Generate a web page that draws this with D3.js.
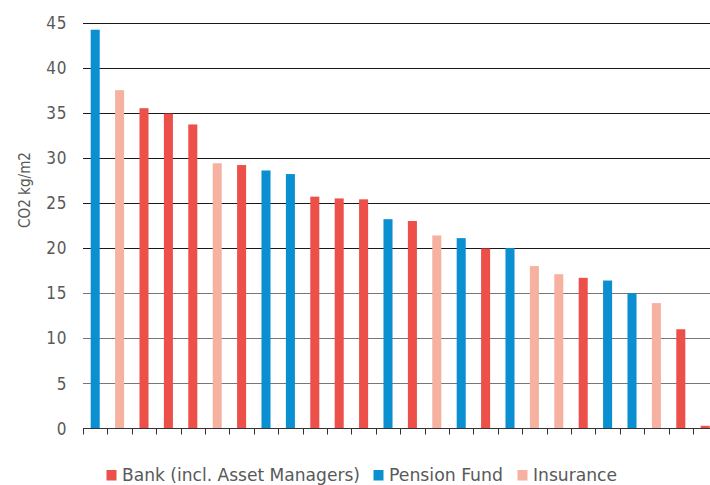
<!DOCTYPE html>
<html lang="en">
<head>
<meta charset="UTF-8">
<title>CO2 intensity by institution</title>
<script src="https://d3js.org/d3.v7.min.js"></script>
<style>
    html, body { margin: 0; padding: 0; background: #fff; }
    svg { display: block; }
    text { font-family: "Liberation Sans Narrow", "DejaVu Sans Condensed", "Liberation Sans", sans-serif; fill: #595959; }
</style>
</head>
<body>
<svg id="chart" width="710" height="485"></svg>
<script>
    // sector of each institution, in chart order (B = bank, P = pension fund, I = insurance)
    const sectors = ["P", "I", "B", "B", "B", "I", "B", "P", "P", "B", "B", "B", "P",
                     "B", "I", "P", "B", "P", "I", "I", "B", "P", "P", "I", "B", "B"];
    const values = [44.2, 37.5, 35.5, 34.9, 33.7, 29.4, 29.2, 28.6, 28.2, 25.7, 25.5, 25.4, 23.2,
                    23.0, 21.4, 21.1, 19.95, 20.0, 18.0, 17.1, 16.7, 16.4, 15.0, 13.9, 11.0, 0.3];
    const sectorKeys = ["B", "P", "I"];
    const sectorNames = ["Bank (incl. Asset Managers)", "Pension Fund", "Insurance"];
    const sectorColors = ["#ec5049", "#0a8fd0", "#f6b1a1"];
    const yTicks = [0, 5, 10, 15, 20, 25, 30, 35, 40, 45];
    const yTitle = "CO2 kg/m2";

    const svg = d3.select("#chart");
    const x0 = 83, step = 24.4, yBase = 428.5;

    const x = d3.scaleBand()
        .domain(d3.range(values.length))
        .range([x0, x0 + step * values.length])
        .paddingInner(0.63)
        .paddingOuter(0.315);

    const y = d3.scaleLinear().domain([0, 45]).range([yBase, 22.5]);

    const color = d3.scaleOrdinal().domain(sectorKeys).range(sectorColors);

    // gridlines
    svg.append("g")
        .selectAll("line")
        .data(yTicks.filter(d => d > 0))
        .enter().append("line")
        .attr("x1", x0).attr("x2", 710)
        .attr("y1", d => Math.round(y(d)) + 0.5)
        .attr("y2", d => Math.round(y(d)) + 0.5)
        .attr("stroke", d => d >= 20 ? "#1a1a1a" : "#777")
        .attr("stroke-width", 1.2);

    // y tick labels
    svg.append("g")
        .selectAll("text")
        .data(yTicks)
        .enter().append("text")
        .attr("x", 67)
        .attr("y", d => y(d))
        .attr("dy", "0.36em")
        .attr("text-anchor", "end")
        .attr("font-size", 17)
        .attr("letter-spacing", 0.6)
        .text(d => d);

    // y title
    svg.append("text")
        .attr("transform", "translate(30,190) rotate(-90)")
        .attr("text-anchor", "middle")
        .attr("font-size", 15.5)
        .attr("textLength", 76)
        .attr("lengthAdjust", "spacingAndGlyphs")
        .text(yTitle);

    // bars
    svg.append("g")
        .selectAll("rect")
        .data(values)
        .enter().append("rect")
        .attr("x", (d, i) => x(i))
        .attr("width", x.bandwidth())
        .attr("y", d => y(d))
        .attr("height", d => yBase - y(d))
        .attr("fill", (d, i) => color(sectors[i]));

    // x axis baseline and category ticks
    const axis = svg.append("g");
    axis.append("line")
        .attr("x1", x0).attr("x2", 710)
        .attr("y1", yBase).attr("y2", yBase)
        .attr("stroke", "#333").attr("stroke-width", 1.2);
    axis.selectAll("line.tick")
        .data(d3.range(values.length + 1))
        .enter().append("line")
        .attr("class", "tick")
        .attr("x1", i => Math.round(x0 + i * x.step()) + 0.5)
        .attr("x2", i => Math.round(x0 + i * x.step()) + 0.5)
        .attr("y1", yBase).attr("y2", yBase + 6)
        .attr("stroke", "#333");

    // legend
    const legendX = [106.5, 373.5, 517.5];
    const legendW = [238, 114, 84];
    const legend = svg.append("g")
        .selectAll("g")
        .data(sectorKeys)
        .enter().append("g")
        .attr("transform", (d, i) => `translate(${legendX[i]},470)`);
    legend.append("rect")
        .attr("width", 10).attr("height", 10.5)
        .attr("fill", d => color(d));
    legend.append("text")
        .attr("x", 15.5)
        .attr("y", 10.5)
        .attr("font-size", 18)
        .attr("textLength", (d, i) => legendW[i])
        .attr("lengthAdjust", "spacingAndGlyphs")
        .text((d, i) => sectorNames[i]);
</script>
</body>
</html>
